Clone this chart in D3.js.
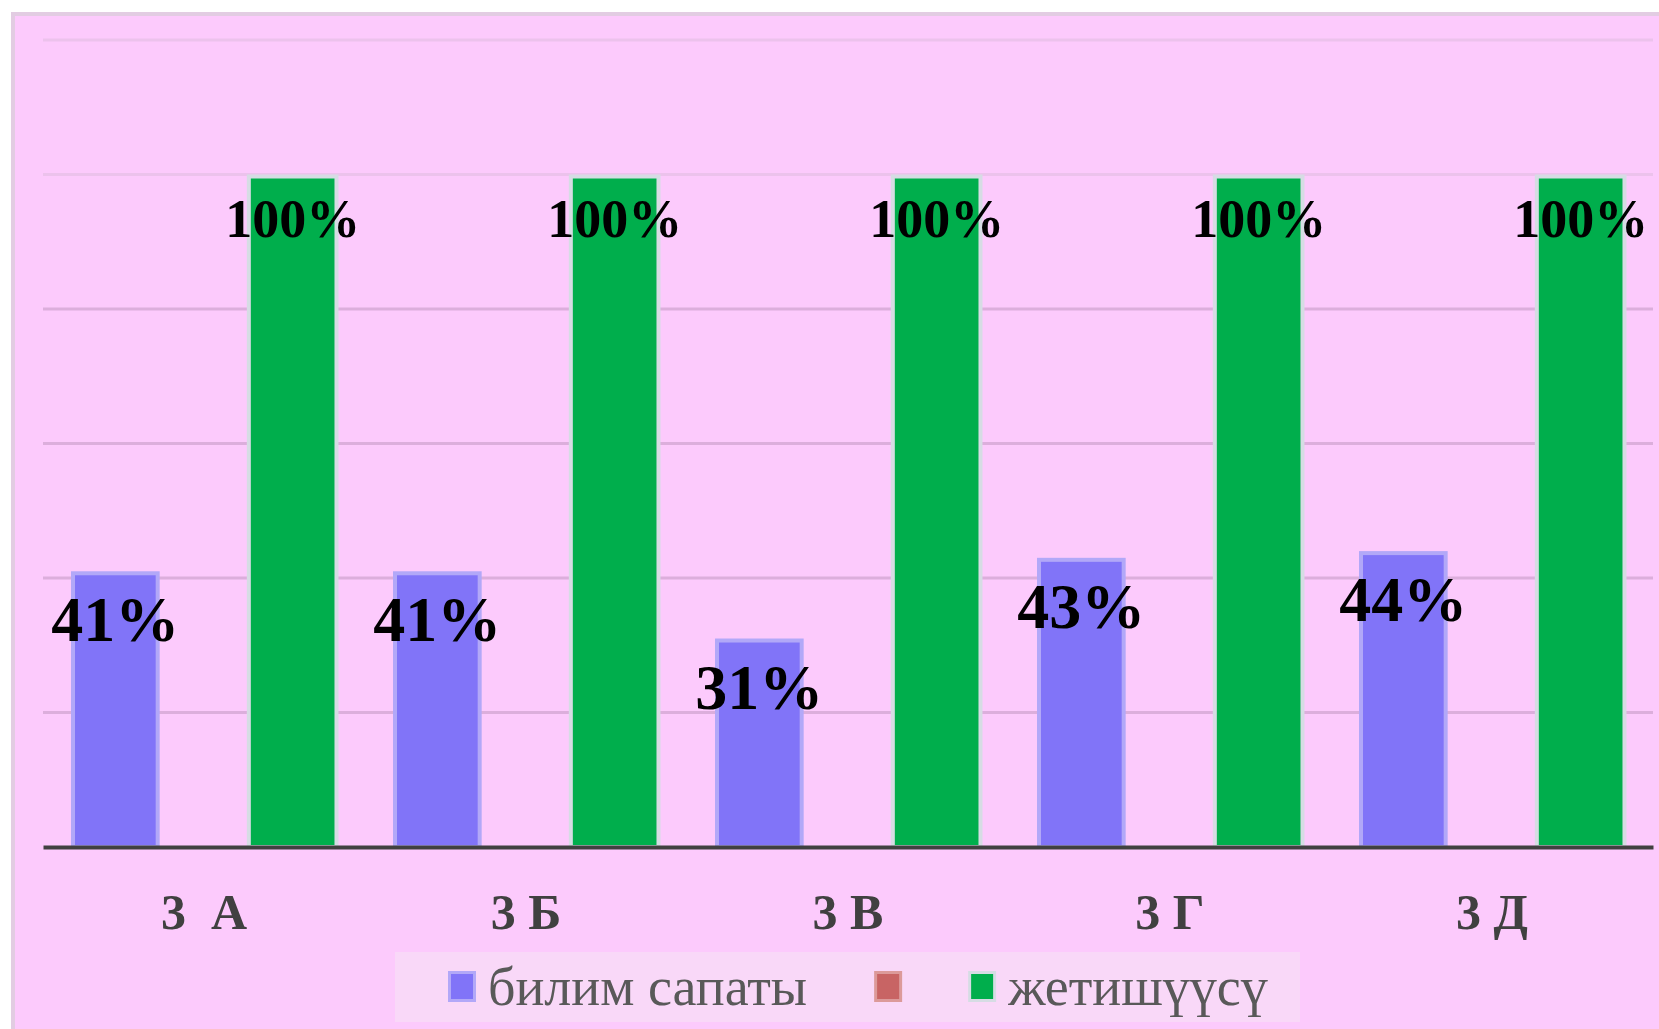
<!DOCTYPE html>
<html>
<head>
<meta charset="utf-8">
<script src="https://cdn.jsdelivr.net/npm/d3@7"></script>
<style>
  html, body { margin: 0; padding: 0; background: #ffffff; }
  svg { display: block; }
</style>
</head>
<body>
<svg id="chart" width="1659" height="1029"></svg>
<script>
// ---- data ----
const categories = ["3  А", "3 Б", "3 В", "3 Г", "3 Д"];
const seriesNames = ["билим сапаты", "", "жетишүүсү"];
const qualityValues = [0.41, 0.41, 0.31, 0.43, 0.44];        // билим сапаты
const emptyValues = [null, null, null, null, null];            // (unnamed series)
const achievementValues = [1.00, 1.00, 1.00, 1.00, 1.00];      // жетишүүсү
const yTicks = [0.2, 0.4, 0.6, 0.8, 1.0, 1.2];

const seriesValues = [qualityValues, emptyValues, achievementValues];
const seriesColors = ["#8174f8", "#c86464", "#00ae4c"];
const seriesStrokes = ["#b2a8f8", "#dc9a9a", "#d6dce4"];
const labelSizes = [64, 0, 54];
const labelOffsets = [70, 0, 62];

const W = 1659, H = 1029;
const svg = d3.select("#chart");
const serif = "'Liberation Serif', 'Times New Roman', serif";

// background panel
svg.append("rect").attr("x", 0).attr("y", 0).attr("width", W).attr("height", H).attr("fill", "#ffffff");
svg.append("rect").attr("x", 11).attr("y", 12).attr("width", W - 11).attr("height", H - 12).attr("fill", "#e2cce2");
svg.append("rect").attr("x", 15).attr("y", 16).attr("width", W - 15).attr("height", H - 16).attr("fill", "#fccafc");

const plot = { left: 43, right: 1653, top: 40, bottom: 847 };

const y = d3.scaleLinear().domain([0, 1.2]).range([plot.bottom, plot.top]);
const x0 = d3.scaleBand().domain(categories).range([plot.left, plot.right])
  .paddingInner(0.174).paddingOuter(0.087);
const x1 = d3.scaleBand().domain(d3.range(seriesNames.length)).range([0, x0.bandwidth()]);

// gridlines
svg.append("g").selectAll("line").data(yTicks).join("line")
  .attr("x1", plot.left).attr("x2", plot.right)
  .attr("y1", d => y(d)).attr("y2", d => y(d))
  .attr("stroke", d => d >= 1.0 ? "#ecc2ec" : "#dcaedc")
  .attr("stroke-width", 3);

// bars
const groups = svg.append("g").selectAll("g").data(categories).join("g")
  .attr("transform", d => `translate(${x0(d)},0)`);

seriesValues.forEach((vals, si) => {
  groups.each(function(cat, ci) {
    const v = vals[ci];
    if (v == null) return;
    const g = d3.select(this);
    const grow = si === 2 ? 1.5 : 0;
    const bx = x1(si) - grow, bw = x1.bandwidth() + 2 * grow;
    g.append("rect")
      .attr("x", bx + 2).attr("y", y(v) + 2)
      .attr("width", bw - 4).attr("height", y(0) - y(v) - 2)
      .attr("fill", seriesColors[si])
      .attr("stroke", seriesStrokes[si]).attr("stroke-width", 4);
  });
});

// axis line
const xAxis = d3.axisBottom(x0).tickSize(0).tickPadding(46);
const ax = svg.append("g").attr("transform", `translate(0,${plot.bottom})`).call(xAxis);
ax.select(".domain").attr("stroke", "#404040").attr("stroke-width", 4);
ax.selectAll("text")
  .attr("font-family", serif).attr("font-size", 50).attr("font-weight", "bold")
  .attr("fill", "#404040").style("white-space", "pre");

// data labels
seriesValues.forEach((vals, si) => {
  groups.each(function(cat, ci) {
    const v = vals[ci];
    if (v == null) return;
    d3.select(this).append("text")
      .attr("x", x1(si) + x1.bandwidth() / 2)
      .attr("y", y(v) + labelOffsets[si])
      .attr("text-anchor", "middle")
      .attr("font-family", serif).attr("font-weight", "bold")
      .attr("font-size", labelSizes[si]).attr("fill", "#000000")
      .text(d3.format(".0%")(v));
  });
});

// legend
const legend = svg.append("g");
legend.append("rect").attr("x", 395).attr("y", 952).attr("width", 905).attr("height", 70)
  .attr("fill", "#f9d8f8");
let lx = 448;
seriesNames.forEach((name, si) => {
  legend.append("rect").attr("x", lx + 1.5).attr("y", 972.5).attr("width", 25).attr("height", 28)
    .attr("fill", seriesColors[si]).attr("stroke", seriesStrokes[si]).attr("stroke-width", 3);
  const t = legend.append("text").attr("x", lx + 40).attr("y", 1005)
    .attr("font-family", serif).attr("font-size", 54).attr("fill", "#595959")
    .text(name);
  const tw = name ? t.node().getComputedTextLength() : 0;
  lx = lx + 40 + tw + (name ? 67 : 54);
});
</script>
</body>
</html>
